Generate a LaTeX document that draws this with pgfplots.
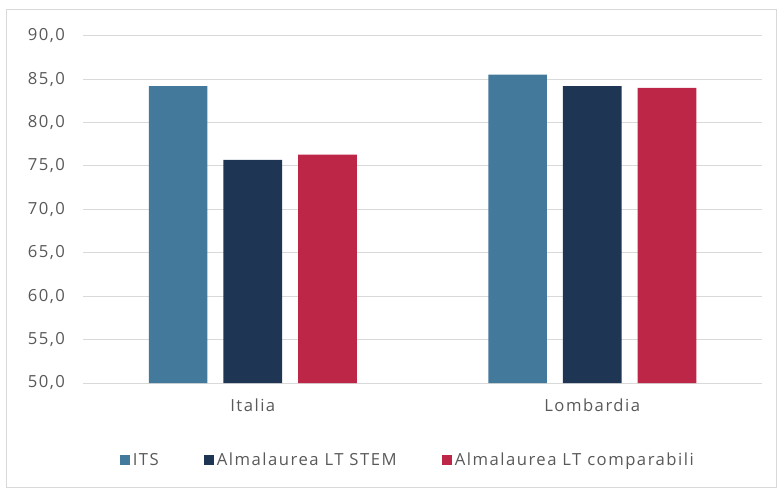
\documentclass[border=0pt]{standalone}
\usepackage{fontspec}
\setmainfont{Open Sans}[LetterSpace=9]
\usepackage{pgfplots}
\pgfplotsset{compat=1.18}

\definecolor{cits}{HTML}{437A9C}
\definecolor{cstem}{HTML}{1F3554}
\definecolor{ccomp}{HTML}{BE2647}
\definecolor{cgrid}{HTML}{D9D9D9}
\definecolor{ctext}{HTML}{595959}

\pgfplotsset{
  sqlegend/.style={legend image code/.code={\fill[##1,draw=none] (0pt,-3.8pt) rectangle (7.6pt,3.8pt);}},
}

\begin{document}
\begin{tikzpicture}
\useasboundingbox (-62.25pt,-79.5pt) rectangle (520.5pt,287.25pt);
\draw[cgrid, line width=0.75pt] (-57pt,-78pt) rectangle (519.75pt,279.75pt);
\begin{axis}[
  at={(0,0)}, anchor=south west,
  scale only axis,
  width=509.25pt, height=260.5pt,
  ybar=12pt, bar width=44pt,
  xmin=-0.5, xmax=1.5,
  ymin=50, ymax=90,
  xtick={0,1}, xticklabels={Italia,Lombardia},
  ytick={50,55,...,90},
  axis x line*=bottom,
  axis y line*=left,
  y axis line style={draw=none},
  x axis line style={cgrid, line width=0.75pt},
  major tick length=0pt,
  ymajorgrids,
  grid style={cgrid, line width=0.75pt},
  tick label style={font=\fontsize{12.5}{14}\selectfont, text=ctext},
  yticklabel style={xshift=-10pt},
  xticklabel style={yshift=-8pt},
  /pgf/number format/.cd, fixed, fixed zerofill, precision=1, use comma, 1000 sep={}, assume math mode=true,
  /pgfplots/.cd,
  legend style={at={(0.479,-0.222)}, anchor=center, draw=none, fill=none,
    legend columns=-1, font=\fontsize{12.5}{14}\selectfont, text=ctext,
    /tikz/every even column/.append style={column sep=32pt}},
  sqlegend,
]
\addplot[fill=cits, draw=none] coordinates {(0,84.2) (1,85.5)};
\addplot[fill=cstem, draw=none] coordinates {(0,75.7) (1,84.2)};
\addplot[fill=ccomp, draw=none] coordinates {(0,76.3) (1,84.0)};
\legend{ITS, Almalaurea LT STEM, Almalaurea LT comparabili}
\end{axis}
\end{tikzpicture}
\end{document}
